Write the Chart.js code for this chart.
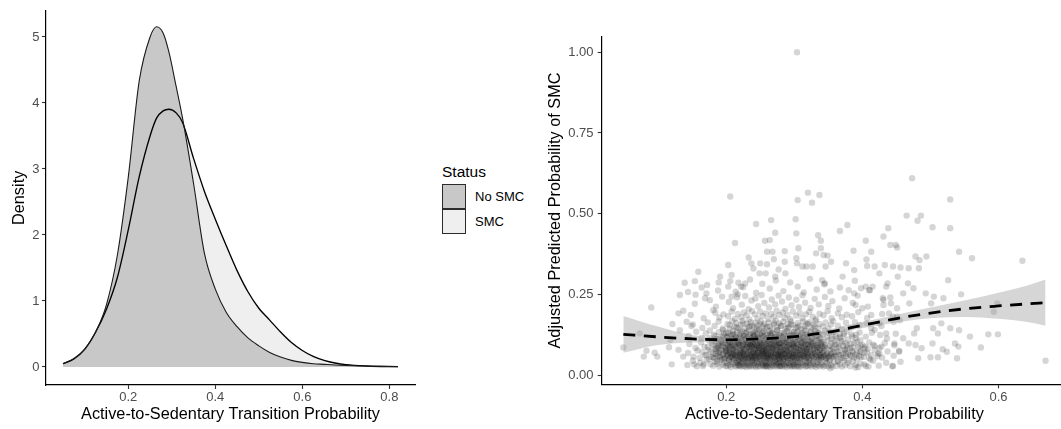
<!DOCTYPE html>
<html><head><meta charset="utf-8">
<script src="https://cdn.jsdelivr.net/npm/chart.js@4.4.1/dist/chart.umd.min.js"></script>
<style>
html,body{margin:0;padding:0;background:#fff;}
body{width:1061px;height:429px;overflow:hidden;position:relative;font-family:"Liberation Sans",Arial,Helvetica,sans-serif;}
#c1{position:absolute;left:0;top:0;}
#c2{position:absolute;left:530px;top:0;}
.lg{position:absolute;white-space:nowrap;line-height:1;color:#000;}
.key{position:absolute;box-sizing:border-box;border:1px solid #2b2b2b;width:24px;height:25px;left:442px;}
</style></head><body>
<canvas id="c1" width="430" height="429"></canvas>
<canvas id="c2" width="541" height="429"></canvas>
<div id="legend"></div>
<script>
// ---------- Left panel: density ----------
const densityX = [0.05,0.075,0.1,0.125,0.15,0.175,0.2,0.225,0.25,0.265,0.28,0.293,0.31,0.325,0.35,0.375,0.4,0.425,0.45,0.475,0.5,0.525,0.55,0.575,0.6,0.625,0.65,0.675,0.7,0.75,0.82];
const densityNoSMC = [0.05,0.13,0.27,0.53,0.95,1.70,2.88,4.33,5.00,5.155,5.06,4.78,4.25,3.76,2.78,1.72,1.18,0.83,0.61,0.44,0.32,0.22,0.15,0.10,0.07,0.05,0.04,0.03,0.022,0.012,0.005];
const densitySMC = [0.05,0.12,0.27,0.53,0.88,1.36,2.08,2.88,3.50,3.77,3.88,3.905,3.85,3.70,3.16,2.66,2.24,1.84,1.46,1.14,0.89,0.71,0.53,0.37,0.25,0.16,0.10,0.06,0.035,0.015,0.005];
const statusLabels = ['No SMC','SMC'];
const leftXTicks = [0.2,0.4,0.6,0.8];
const leftYTicks = [0,1,2,3,4,5];

// ---------- Right panel: scatter + smooth ----------
const rightXTicks = [0.2,0.4,0.6];
const rightYTicks = [0,0.25,0.5,0.75,1];
const trendX = [0.049,0.10,0.15,0.20,0.25,0.30,0.35,0.40,0.45,0.50,0.55,0.60,0.64,0.669];
const trendY = [0.126,0.118,0.112,0.109,0.112,0.119,0.133,0.154,0.175,0.192,0.205,0.214,0.220,0.224];
const bandLower = [0.069,0.093,0.101,0.102,0.106,0.112,0.125,0.145,0.163,0.176,0.180,0.174,0.165,0.153];
const bandUpper = [0.183,0.150,0.124,0.116,0.118,0.126,0.141,0.164,0.187,0.209,0.231,0.255,0.276,0.296];

const pointsCore = [
[.143,.031],[.151,.044],[.157,.027],[.162,.038],[.166,.028],[.171,.046],[.177,.033],
[.181,.029],[.184,.041],[.187,.035],[.190,.026],[.192,.047],[.195,.032],[.197,.039],[.199,.028],
[.201,.036],[.202,.027],[.204,.044],[.205,.031],[.207,.025],[.208,.040],[.210,.034],[.211,.048],[.213,.029],[.214,.037],[.215,.026],[.216,.043],[.217,.032],[.218,.038],[.219,.028],[.219,.046],
[.220,.030],[.221,.041],[.222,.026],[.223,.035],[.224,.047],[.225,.029],[.226,.038],[.227,.027],[.228,.044],[.229,.033],[.230,.025],[.231,.040],[.232,.031],[.233,.049],[.234,.028],[.235,.036],[.236,.026],[.237,.042],[.238,.032],[.239,.045],
[.240,.027],[.241,.037],[.242,.046],[.243,.030],[.244,.025],[.245,.041],[.246,.033],[.247,.028],[.248,.039],[.249,.048],[.250,.026],[.251,.035],[.252,.043],[.253,.029],[.254,.031],[.255,.038],[.256,.026],[.257,.045],[.258,.033],[.258,.028],[.259,.040],[.259,.027],
[.260,.034],[.261,.026],[.262,.044],[.263,.030],[.264,.038],[.265,.025],[.266,.047],[.267,.032],[.268,.028],[.269,.041],[.270,.036],[.271,.027],[.272,.045],[.273,.031],[.274,.039],[.275,.026],[.276,.034],[.277,.048],[.278,.029],[.278,.037],[.279,.027],[.279,.043],
[.280,.029],[.281,.040],[.282,.026],[.283,.035],[.284,.046],[.285,.031],[.286,.027],[.287,.042],[.288,.033],[.289,.025],[.290,.038],[.291,.048],[.292,.030],[.293,.036],[.294,.027],[.295,.044],[.296,.032],[.297,.026],[.298,.039],[.299,.029],
[.300,.033],[.301,.026],[.302,.045],[.303,.037],[.304,.028],[.305,.041],[.306,.030],[.307,.025],[.308,.048],[.309,.035],[.310,.027],[.312,.039],[.313,.031],[.315,.044],[.316,.026],[.317,.036],[.318,.029],[.319,.042],
[.320,.027],[.321,.038],[.323,.031],[.324,.046],[.325,.026],[.327,.035],[.328,.042],[.329,.029],[.331,.033],[.332,.025],[.334,.040],[.335,.030],[.337,.047],[.338,.027],[.339,.036],
[.341,.032],[.343,.026],[.345,.043],[.346,.029],[.348,.037],[.350,.027],[.352,.045],[.354,.031],[.356,.026],[.358,.039],
[.362,.028],[.364,.041],[.367,.033],[.370,.026],[.373,.045],[.375,.030],[.378,.037],
[.382,.027],[.386,.042],[.390,.031],[.394,.025],[.397,.036],[.403,.033],[.409,.026],[.416,.044],[.424,.029],[.435,.038],[.444,.027],[.456,.041],
[.144,.068],[.152,.057],[.158,.076],[.161,.053],[.165,.071],[.169,.062],[.174,.078],[.178,.056],
[.181,.066],[.183,.052],[.185,.074],[.187,.059],[.189,.069],[.191,.055],[.193,.078],[.195,.063],[.197,.051],[.199,.072],
[.200,.058],[.201,.075],[.202,.064],[.203,.052],[.204,.069],[.205,.079],[.206,.056],[.207,.066],[.208,.061],[.209,.073],[.210,.053],[.211,.067],[.212,.077],[.213,.059],[.214,.063],[.215,.054],[.216,.071],[.217,.065],[.219,.057],
[.220,.062],[.221,.074],[.221,.054],[.222,.068],[.223,.058],[.224,.078],[.225,.051],[.225,.065],[.226,.071],[.227,.060],[.228,.055],[.229,.076],[.230,.064],[.231,.052],[.232,.069],[.233,.057],[.234,.073],[.235,.062],[.236,.054],[.236,.079],[.237,.066],[.238,.059],[.239,.071],[.239,.053],
[.240,.067],[.241,.055],[.241,.076],[.242,.061],[.243,.070],[.244,.052],[.245,.064],[.246,.078],[.246,.057],[.247,.068],[.248,.060],[.249,.073],[.250,.054],[.251,.066],[.251,.079],[.252,.058],[.253,.071],[.254,.063],[.255,.051],[.255,.075],[.256,.065],[.257,.056],[.258,.069],[.258,.077],[.259,.060],[.259,.053],
[.260,.072],[.261,.058],[.261,.064],[.262,.052],[.263,.077],[.264,.067],[.265,.055],[.266,.070],[.266,.061],[.267,.079],[.268,.057],[.269,.065],[.270,.053],[.271,.074],[.272,.062],[.273,.068],[.274,.056],[.275,.078],[.275,.051],[.276,.063],[.277,.071],[.278,.059],[.278,.066],[.279,.054],[.279,.075],
[.280,.061],[.281,.073],[.282,.055],[.283,.067],[.284,.058],[.285,.078],[.285,.052],[.286,.064],[.287,.070],[.288,.056],[.289,.076],[.290,.062],[.291,.053],[.292,.068],[.293,.059],[.294,.074],[.295,.065],[.296,.051],[.297,.071],[.297,.057],[.298,.063],[.299,.077],[.299,.054],
[.300,.066],[.301,.056],[.302,.074],[.303,.060],[.304,.052],[.305,.070],[.306,.063],[.307,.078],[.308,.057],[.309,.068],[.310,.054],[.311,.073],[.312,.061],[.313,.076],[.314,.055],[.315,.065],[.316,.059],[.317,.071],[.318,.053],[.319,.067],[.319,.079],
[.320,.058],[.321,.072],[.322,.053],[.324,.065],[.325,.077],[.326,.060],[.328,.068],[.329,.055],[.330,.074],[.332,.062],[.333,.051],[.334,.070],[.336,.057],[.337,.066],[.338,.078],[.339,.061],[.339,.054],
[.341,.069],[.342,.056],[.344,.075],[.346,.062],[.347,.052],[.349,.067],[.351,.059],[.353,.078],[.354,.064],[.356,.055],[.358,.071],[.359,.060],
[.361,.057],[.364,.073],[.366,.063],[.369,.052],[.371,.068],[.374,.077],[.376,.059],[.379,.065],
[.382,.062],[.385,.075],[.388,.054],[.392,.068],[.395,.058],[.398,.072],[.402,.056],[.407,.070],[.413,.061],[.418,.077],[.423,.066],[.429,.054],[.437,.073],[.446,.060],[.454,.072],
[.146,.096],[.155,.084],[.163,.101],[.168,.088],[.175,.106],
[.181,.092],[.184,.104],[.187,.085],[.190,.097],[.193,.108],[.196,.089],[.198,.100],
[.200,.083],[.202,.095],[.203,.106],[.205,.088],[.206,.099],[.208,.091],[.209,.081],[.211,.103],[.212,.094],[.214,.086],[.215,.109],[.216,.097],[.218,.090],[.219,.102],
[.220,.094],[.221,.084],[.222,.105],[.224,.089],[.225,.098],[.226,.081],[.227,.109],[.229,.092],[.230,.101],[.231,.086],[.232,.096],[.234,.083],[.235,.106],[.236,.091],[.237,.100],[.238,.087],[.239,.095],
[.240,.103],[.241,.089],[.242,.097],[.243,.082],[.244,.108],[.245,.093],[.246,.086],[.247,.100],[.248,.091],[.249,.084],[.250,.105],[.251,.095],[.252,.088],[.253,.099],[.254,.081],[.255,.092],[.256,.107],[.257,.085],[.259,.097],
[.260,.090],[.261,.102],[.262,.084],[.264,.096],[.265,.109],[.266,.087],[.267,.099],[.268,.093],[.269,.082],[.270,.104],[.271,.089],[.273,.097],[.274,.085],[.275,.107],[.276,.092],[.277,.101],[.278,.086],[.279,.095],
[.280,.099],[.281,.085],[.283,.093],[.284,.106],[.285,.089],[.287,.081],[.288,.097],[.289,.103],[.290,.088],[.292,.094],[.293,.084],[.294,.108],[.295,.091],[.297,.099],[.298,.086],[.299,.096],
[.300,.090],[.302,.102],[.303,.084],[.304,.096],[.306,.109],[.307,.088],[.309,.093],[.310,.082],[.311,.100],[.313,.086],[.314,.105],[.316,.092],[.317,.097],[.318,.083],[.319,.103],
[.321,.095],[.322,.085],[.324,.104],[.326,.090],[.327,.098],[.329,.082],[.331,.107],[.332,.093],[.334,.087],[.336,.100],[.337,.084],[.339,.096],
[.341,.088],[.343,.102],[.345,.093],[.347,.083],[.349,.108],[.352,.091],[.354,.099],[.356,.085],[.359,.104],
[.362,.094],[.365,.085],[.368,.106],[.372,.090],[.375,.099],[.378,.082],[.383,.097],[.387,.086],[.392,.104],[.397,.091],[.404,.088],[.410,.101],[.416,.094],[.425,.084],[.433,.099],[.447,.092],
[.145,.121],[.156,.134],[.164,.115],[.170,.129],[.176,.138],
[.182,.124],[.185,.112],[.189,.133],[.193,.119],[.197,.128],
[.201,.117],[.203,.131],[.205,.123],[.208,.112],[.210,.137],[.212,.126],[.214,.119],[.216,.132],[.218,.114],
[.221,.128],[.222,.116],[.224,.135],[.226,.122],[.228,.111],[.229,.130],[.231,.119],[.233,.138],[.235,.125],[.237,.114],[.239,.131],
[.240,.120],[.242,.134],[.243,.113],[.245,.127],[.247,.118],[.248,.137],[.250,.124],[.252,.115],[.253,.132],[.255,.121],[.257,.129],[.259,.112],
[.261,.126],[.263,.116],[.264,.136],[.266,.122],[.268,.131],[.270,.113],[.272,.127],[.273,.119],[.275,.138],[.277,.124],[.279,.114],
[.281,.130],[.283,.118],[.285,.125],[.287,.112],[.289,.136],[.291,.121],[.293,.129],[.295,.115],[.297,.133],[.299,.123],
[.301,.116],[.303,.128],[.305,.135],[.307,.120],[.309,.112],[.311,.131],[.313,.124],[.315,.117],[.317,.138],[.319,.126],
[.321,.119],[.324,.132],[.326,.114],[.329,.127],[.331,.136],[.334,.121],[.336,.129],[.339,.115],
[.342,.125],[.345,.137],[.348,.117],[.351,.130],[.355,.121],[.358,.133],[.363,.114],[.367,.128],[.372,.120],[.377,.135],
[.384,.126],[.390,.115],[.396,.132],[.405,.119],[.414,.131],[.426,.124],[.436,.113],[.449,.128],
[.151,.157],[.165,.146],[.173,.163],[.183,.152],[.189,.166],[.195,.144],
[.202,.158],[.205,.143],[.209,.167],[.212,.150],[.215,.161],[.218,.146],
[.221,.155],[.224,.168],[.227,.144],[.230,.159],[.233,.149],[.236,.164],[.238,.153],
[.241,.147],[.243,.162],[.246,.154],[.249,.141],[.251,.166],[.254,.151],[.256,.159],[.258,.145],
[.262,.163],[.264,.150],[.267,.142],[.270,.157],[.273,.168],[.275,.148],[.278,.160],
[.281,.152],[.284,.165],[.287,.144],[.290,.158],[.292,.149],[.295,.167],[.298,.155],
[.302,.146],[.305,.161],[.307,.153],[.310,.143],[.313,.166],[.316,.151],[.318,.159],
[.322,.164],[.325,.147],[.328,.156],[.331,.168],[.334,.145],[.337,.158],
[.342,.150],[.346,.163],[.350,.144],[.354,.157],[.357,.167],[.364,.153],[.370,.142],[.376,.162],
[.383,.147],[.389,.164],[.396,.155],[.406,.160],[.413,.146],[.428,.152],[.446,.165],
[.148,.186],[.167,.176],[.184,.193],[.190,.178],[.196,.188],
[.203,.182],[.208,.197],[.213,.174],[.217,.189],[.222,.179],[.226,.194],[.230,.185],[.234,.172],[.238,.198],
[.242,.188],[.246,.175],[.250,.196],[.254,.183],[.258,.191],[.262,.174],[.266,.189],[.270,.181],[.274,.199],[.278,.186],
[.283,.194],[.286,.177],[.290,.187],[.294,.173],[.298,.197],[.303,.184],[.308,.192],[.312,.176],[.317,.188],
[.322,.196],[.327,.181],[.332,.173],[.337,.190],[.343,.185],[.349,.198],[.355,.176],
[.364,.191],[.370,.179],[.377,.187],[.385,.182],[.394,.195],[.407,.177],[.429,.189],[.451,.181],
[.154,.221],[.169,.238],[.185,.212],[.194,.243],[.204,.226],[.210,.207],[.216,.241],
[.223,.218],[.228,.245],[.233,.204],[.237,.231],[.243,.237],[.247,.213],[.252,.248],[.256,.223],
[.263,.209],[.267,.234],[.272,.219],[.277,.246],[.282,.228],[.287,.205],[.292,.240],[.296,.216],
[.303,.233],[.307,.211],[.312,.247],[.316,.224],[.324,.208],[.330,.236],[.336,.219],
[.345,.242],[.350,.214],[.356,.229],[.366,.206],[.374,.238],[.386,.223],[.393,.246],[.408,.212],[.431,.233],
[.172,.279],[.188,.262],[.206,.291],[.214,.258],[.225,.272],[.235,.296],[.244,.255],[.253,.283],[.264,.268],[.273,.293],
[.284,.260],[.294,.287],[.305,.274],[.314,.256],[.323,.298],[.333,.265],[.344,.281],[.353,.259],[.367,.271],[.389,.292],[.411,.263]
];

// extra points in the darkest part of the cloud
const pointsDense = [
[.190,.058],[.192,.071],[.194,.049],[.196,.066],[.198,.053],[.200,.074],[.202,.061],[.204,.047],[.206,.069],[.208,.056],
[.210,.063],[.212,.051],[.214,.072],[.216,.059],[.218,.045],[.220,.067],[.222,.054],[.224,.070],[.226,.062],[.228,.048],
[.230,.065],[.232,.052],[.234,.073],[.236,.057],[.238,.046],[.240,.068],[.242,.060],[.244,.050],[.246,.071],[.248,.055],
[.250,.064],[.252,.047],[.254,.069],[.256,.058],[.258,.074],[.260,.053],[.262,.066],[.264,.049],[.266,.061],[.268,.072],
[.270,.056],[.272,.045],[.274,.067],[.276,.059],[.278,.051],[.280,.070],[.282,.063],[.284,.048],[.286,.065],[.288,.054],
[.290,.073],[.292,.060],[.294,.050],[.296,.068],[.298,.057],[.300,.046],[.302,.064],[.304,.071],[.306,.052],[.308,.062],
[.310,.049],[.312,.067],[.314,.058],[.316,.074],[.318,.055],[.320,.063],[.322,.047],[.324,.069],[.326,.060],[.328,.051],
[.330,.066],[.332,.057],[.334,.072],[.336,.048],[.338,.061],[.340,.054],[.342,.068],[.344,.059],[.346,.050],[.348,.065],[.350,.056],
[.185,.082],[.188,.094],[.190,.077],[.193,.089],[.195,.098],[.198,.085],[.200,.079],[.203,.092],[.205,.087],[.208,.096],
[.210,.080],[.213,.090],[.215,.084],[.218,.099],[.220,.076],[.223,.088],[.225,.093],[.228,.081],[.230,.095],[.233,.086],
[.235,.092],[.238,.087],[.240,.096],[.243,.080],[.245,.090],[.248,.084],[.250,.099],[.253,.076],[.255,.088],[.258,.093],
[.260,.081],[.263,.095],[.265,.086],[.268,.082],[.270,.094],[.273,.077],[.275,.089],[.278,.098],[.280,.085],[.283,.079],
[.285,.099],[.288,.076],[.290,.088],[.293,.093],[.295,.081],[.298,.095],[.300,.086],[.303,.082],[.305,.094],[.308,.077],
[.310,.089],[.313,.098],[.315,.085],[.318,.079],[.320,.092],[.323,.087],[.325,.096],[.328,.080],[.330,.090],[.333,.084],
[.335,.091],[.338,.078],[.340,.097],[.343,.083],[.345,.088],
[.190,.112],[.193,.104],[.196,.121],[.199,.108],[.202,.117],[.205,.101],[.208,.124],[.211,.110],[.214,.115],[.217,.103],
[.220,.119],[.223,.107],[.226,.122],[.229,.113],[.232,.100],[.235,.118],[.238,.106],[.241,.123],[.244,.111],[.247,.116],
[.250,.102],[.253,.120],[.256,.109],[.259,.114],[.262,.105],[.265,.125],[.268,.111],[.271,.103],[.274,.118],[.277,.108],
[.280,.121],[.283,.113],[.286,.101],[.289,.116],[.292,.107],[.295,.123],[.298,.110],[.301,.104],[.304,.119],[.307,.112],
[.310,.102],[.313,.117],[.316,.108],[.319,.124],[.322,.106],[.325,.115],[.328,.101],[.331,.120],[.334,.109],[.337,.114],[.340,.103],
[.195,.140],[.200,.131],[.205,.155],[.210,.128],[.215,.147],[.220,.136],[.225,.160],[.230,.133],[.235,.151],[.240,.127],
[.245,.143],[.250,.158],[.255,.135],[.260,.149],[.265,.129],[.270,.162],[.275,.139],[.280,.153],[.285,.131],[.290,.145],
[.295,.157],[.300,.134],[.305,.148],[.310,.126],[.315,.141],[.320,.159],[.325,.137],[.330,.150],[.335,.132],
[.352,.048],[.354,.066],[.356,.081],[.358,.057],[.360,.095],[.362,.072],[.364,.044],[.366,.088],[.368,.061],[.370,.103],
[.372,.053],[.374,.079],[.376,.067],[.378,.092],[.380,.046],[.382,.084],[.384,.058],[.386,.071],[.388,.099],[.390,.063],
[.392,.050],[.394,.086],[.396,.074],[.398,.056],[.400,.093],[.355,.112],[.361,.121],[.367,.116],[.373,.128],[.379,.110],
[.385,.119],[.391,.125],[.397,.108],[.403,.069],[.408,.081],[.412,.047],[.418,.090],[.422,.058],
[.171,.061],[.173,.087],[.175,.049],[.177,.072],[.179,.098],[.181,.055],[.183,.081],[.185,.065],[.187,.043],[.189,.090],
[.176,.114],[.184,.121]
];

const pointsOuter = [
[.304,1.0],[.473,.610],[.206,.553],[.320,.565],[.337,.558],[.326,.534],[.305,.542],[.529,.544],
[.465,.494],[.486,.494],[.481,.478],[.244,.468],[.266,.480],[.302,.483],[.378,.465],[.367,.446],
[.503,.458],[.529,.455],[.438,.455],[.431,.429],[.303,.439],[.272,.441],[.257,.416],[.264,.418],
[.213,.409],[.335,.433],[.339,.416],[.405,.416],[.441,.403],[.449,.403],[.451,.395],[.387,.385],
[.413,.382],[.542,.382],[.561,.362],[.494,.367],[.478,.367],[.484,.356],[.635,.354],[.406,.358],
[.407,.338],[.418,.336],[.433,.341],[.445,.336],[.456,.333],[.468,.331],[.483,.331],[.376,.346],
[.388,.325],[.425,.315],[.452,.305],[.467,.284],[.437,.284],[.526,.294],[.415,.274],[.435,.274],
[.493,.253],[.545,.250],[.475,.269],[.460,.253],[.505,.243],[.519,.238],[.501,.222],[.469,.222],
[.442,.222],[.598,.222],[.593,.196],[.558,.119],[.585,.126],[.599,.126],[.574,.085],[.669,.044],
[.539,.052],[.500,.055],[.511,.055],[.482,.052],[.445,.028],[.518,.080],[.524,.072],[.541,.088],
[.536,.098],[.529,.145],[.542,.139],[.516,.160],[.511,.129],[.504,.145],[.503,.098],[.487,.083],
[.478,.093],[.468,.098],[.460,.114],[.476,.129],[.480,.145],[.049,.085],[.090,.209],[.073,.129],
[.083,.075],[.079,.057],[.099,.057],[.095,.069],[.116,.086],[.120,.033],[.121,.158],[.118,.109],
[.130,.191],[.137,.199],[.139,.286],[.132,.248],[.144,.257],[.154,.291],[.159,.320],[.155,.249],
[.142,.165],[.149,.152],[.132,.139],[.130,.078],[.137,.057],[.153,.033],[.167,.033],[.164,.271],
[.171,.253],[.176,.232],[.181,.201],[.189,.287],[.191,.305],[.203,.341],[.208,.310],[.203,.274],
[.218,.286],[.233,.364],[.237,.346],[.240,.330],[.250,.346],[.260,.343],[.270,.359],[.268,.382],
[.260,.382],[.277,.327],[.286,.384],[.286,.351],[.304,.346],[.303,.362],[.306,.393],[.312,.336],
[.318,.336],[.327,.336],[.332,.377],[.339,.393],[.343,.372],[.349,.370],[.346,.336],[.354,.351],
[.341,.294],[.345,.284],[.287,.315],[.272,.305],[.258,.315],[.249,.315],[.228,.284],[.222,.274],
[.217,.250],[.208,.243],[.371,.305],[.380,.263],[.388,.253],[.398,.269],[.405,.274],[.410,.263],
[.390,.217],[.400,.207],[.413,.186],[.430,.238],[.431,.217],[.441,.240],[.445,.181],[.451,.207],
[.455,.170],[.439,.191],[.425,.160],[.418,.140],[.435,.129],[.447,.098],[.454,.075],[.428,.088],
[.425,.067],[.410,.052],[.403,.083],[.405,.028],[.390,.023],[.353,.021]
];

// ---------- helpers ----------
const FONT = '"Liberation Sans", Arial, Helvetica, sans-serif';
Chart.defaults.font.family = FONT;
Chart.defaults.animation = false;
const xy = (xs, ys) => xs.map((x, i) => ({x: x, y: ys[i]}));
const pairs = arr => arr.map(p => ({x: p[0], y: p[1]}));

function axis(o) {
  return {
    type: 'linear', min: o.min, max: o.max,
    afterBuildTicks: s => { s.ticks = o.ticks.map(v => ({value: v})); },
    afterFit: s => { if (o.w != null) s.width = o.w; if (o.h != null) s.height = o.h; },
    ticks: { color: '#4d4d4d', font: {size: 13}, padding: o.tp, autoSkip: false, maxRotation: 0, minRotation: 0, callback: o.fmt },
    grid: { display: true, drawOnChartArea: false, drawTicks: true, tickLength: 4, tickColor: '#333', tickWidth: 1.1 },
    border: { display: true, color: '#000', width: 1.2 },
    title: { display: true, text: o.title, color: '#000', font: {size: 16.3}, padding: o.titlePad }
  };
}

// ---------- left chart ----------
new Chart(document.getElementById('c1'), {
  type: 'line',
  data: { datasets: [
    { label: statusLabels[0], data: xy(densityX, densityNoSMC), fill: 'origin', backgroundColor: '#c8c8c8',
      borderColor: '#1a1a1a', borderWidth: 1.1, pointRadius: 0, cubicInterpolationMode: 'monotone', order: 0 },
    { label: statusLabels[1], data: xy(densityX, densitySMC), fill: 'origin', backgroundColor: '#efefef',
      borderColor: '#000', borderWidth: 1.35, pointRadius: 0, cubicInterpolationMode: 'monotone', order: 1 }
  ]},
  options: {
    responsive: false, animation: false, events: [],
    layout: { padding: { left: 0, right: 15, top: 10.7, bottom: 0 } },
    plugins: { legend: {display: false}, tooltip: {enabled: false}, filler: {drawTime: 'beforeDatasetsDraw'} },
    scales: {
      x: axis({min: 0.0108, max: 0.859, ticks: leftXTicks, h: 44, tp: 1, fmt: v => v.toFixed(1),
               title: 'Active-to-Sedentary Transition Probability', titlePad: {top: 0, bottom: 5}}),
      y: axis({min: -0.273, max: 5.398, ticks: leftYTicks, w: 46, tp: 2.5, fmt: v => String(v),
               title: 'Density', titlePad: {top: 10, bottom: 0}})
    }
  }
});

// ---------- legend ----------
(function () {
  const lg = document.getElementById('legend');
  const fills = ['#c8c8c8', '#efefef'];
  let html = '<div class="lg" style="left:442px;top:164px;font-size:15.5px">Status</div>';
  statusLabels.forEach((lab, i) => {
    const top = 184 + i * 25;
    html += '<div class="key" style="top:' + top + 'px;background:' + fills[i] + '"></div>';
    html += '<div class="lg" style="left:475px;top:' + (top + 6) + 'px;font-size:13px">' + lab + '</div>';
  });
  lg.innerHTML = html;
})();

// ---------- right chart ----------
new Chart(document.getElementById('c2'), {
  type: 'scatter',
  data: { datasets: [
    { type: 'line', data: xy(trendX, trendY), showLine: true, borderColor: '#000', borderWidth: 2.8,
      borderDash: [12, 8.5], borderCapStyle: 'butt', pointRadius: 0, fill: false, cubicInterpolationMode: 'monotone', order: 0 },
    { type: 'line', data: xy(trendX, bandUpper), showLine: true, borderColor: 'rgba(0,0,0,0)', borderWidth: 0,
      pointRadius: 0, fill: '+1', backgroundColor: 'rgba(153,153,153,0.4)', cubicInterpolationMode: 'monotone', order: 1 },
    { type: 'line', data: xy(trendX, bandLower), showLine: true, borderColor: 'rgba(0,0,0,0)', borderWidth: 0,
      pointRadius: 0, fill: false, cubicInterpolationMode: 'monotone', order: 2 },
    { data: pairs(pointsCore.concat(pointsDense, pointsOuter)), pointRadius: 3.2, pointBorderWidth: 0,
      pointBackgroundColor: 'rgba(0,0,0,0.165)', pointBorderColor: 'rgba(0,0,0,0)', order: 3 }
  ]},
  options: {
    responsive: false, animation: false, events: [],
    layout: { padding: { left: 0, right: 0, top: 36.7, bottom: 0 } },
    plugins: { legend: {display: false}, tooltip: {enabled: false} },
    scales: {
      x: axis({min: 0.0172, max: 0.7005, ticks: rightXTicks, h: 44.7, tp: 1.4, fmt: v => v.toFixed(1),
               title: 'Active-to-Sedentary Transition Probability', titlePad: {top: 0, bottom: 5}}),
      y: axis({min: -0.0288, max: 1.0483, ticks: rightYTicks, w: 71.7, tp: 4.2, fmt: v => v.toFixed(2),
               title: 'Adjusted Predicted Probability of SMC', titlePad: {top: 16, bottom: 0}})
    }
  }
});
</script>
</body></html>
